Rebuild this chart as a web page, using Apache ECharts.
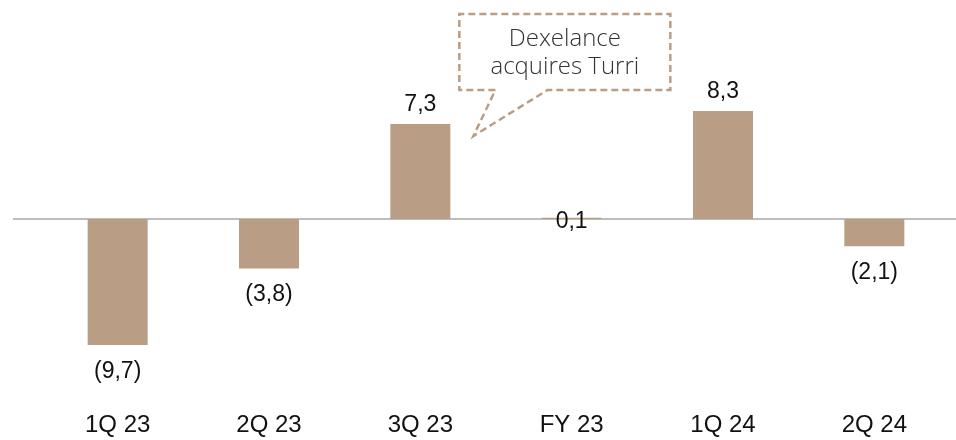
<!DOCTYPE html>
<html>
<head>
<meta charset="utf-8">
<style>
  html, body { margin: 0; padding: 0; background: #fff; }
  #chart { width: 956px; height: 440px; }
</style>
<script src="https://cdn.jsdelivr.net/npm/echarts@6/dist/echarts.min.js"></script>
</head>
<body>
<div id="chart"></div>
<script>
// Quarterly values (negative shown in parentheses, comma decimals)
const categories = ['1Q 23', '2Q 23', '3Q 23', 'FY 23', '1Q 24', '2Q 24'];
const values = [-9.7, -3.8, 7.3, 0.1, 8.3, -2.1];
const calloutLines = ['Dexelance', 'acquires Turri'];

const BAR = '#b99e85';
const TEXT_FONT = 'Liberation Sans, Arial, sans-serif';

function fmt(v) {
  const s = Math.abs(v).toFixed(1).replace('.', ',');
  return v < 0 ? '(' + s + ')' : s;
}

const chart = echarts.init(document.getElementById('chart'), null, { renderer: 'canvas' });

chart.setOption({
  animation: false,
  grid: { left: 42, right: 6, top: 89, bottom: 65 },
  xAxis: {
    type: 'category',
    data: categories,
    position: 'bottom',
    axisLine: { show: false, onZero: false },
    axisTick: { show: false },
    axisLabel: {
      margin: 38,
      fontSize: 24,
      color: '#111',
      fontFamily: TEXT_FONT
    }
  },
  yAxis: {
    type: 'value',
    min: -12,
    max: 10,
    show: false,
    splitLine: { show: false }
  },
  series: [{
    type: 'bar',
    barWidth: 60,
    data: values.map(function (v) {
      const item = { value: v };
      if (Math.abs(v) < 0.5) {
        item.label = { position: 'inside', offset: [0, 3] };
      } else if (v < 0) {
        item.label = { position: 'bottom', distance: 15 };
      }
      return item;
    }),
    itemStyle: { color: BAR },
    label: {
      show: true,
      position: 'top',
      distance: 8,
      fontSize: 23,
      color: '#111',
      fontFamily: TEXT_FONT,
      formatter: function (p) { return fmt(p.value); }
    }
  }]
});

// Zero baseline and the annotation bubble, placed from the axis scales
const y0 = chart.convertToPixel({ yAxisIndex: 0 }, 0);
const anchor = chart.convertToPixel({ seriesIndex: 0 }, ['3Q 23', values[2]]);
const tipX = anchor[0] + 53, tipY = anchor[1] + 12;
const boxL = tipX - 14, boxR = tipX + 197, boxT = tipY - 122, boxB = tipY - 46;
const dash = { stroke: BAR, lineWidth: 2.5, lineDash: [7, 4], fill: null };

chart.setOption({
  graphic: [
    {
      type: 'line', z: 1,
      shape: { x1: 13, y1: y0, x2: 956, y2: y0 },
      style: { stroke: '#bdbdbd', lineWidth: 2 }
    },
    {
      type: 'polyline', z: 5,
      shape: { points: [
        [tipX + 22, boxB], [boxL, boxB], [boxL, boxT], [boxR, boxT],
        [boxR, boxB], [tipX + 74, boxB], [tipX, tipY], [tipX + 22, boxB]
      ] },
      style: dash
    },
    {
      type: 'text', z: 6,
      style: {
        x: (boxL + boxR) / 2, y: (boxT + boxB) / 2 + 1,
        text: calloutLines.join('\n'),
        align: 'center', verticalAlign: 'middle',
        font: '300 24px "Open Sans", "Liberation Sans", sans-serif',
        lineHeight: 28,
        fill: '#333'
      }
    }
  ]
});
</script>
</body>
</html>
